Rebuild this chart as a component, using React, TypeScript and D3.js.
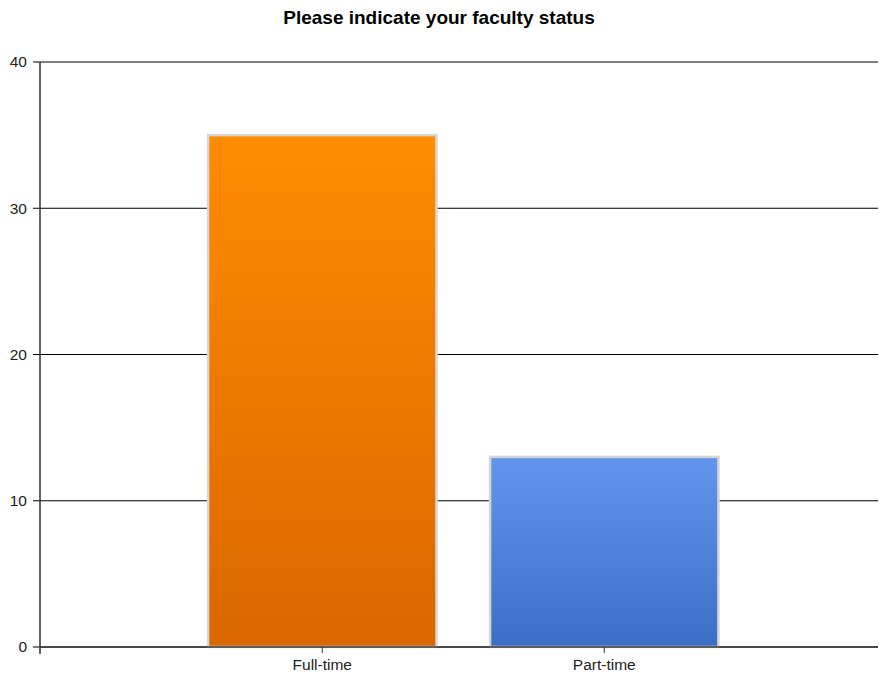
import React from "react";
import * as d3 from "d3";

const categories = ["Full-time", "Part-time"];
const counts = [35, 13];
const yTicks = [0, 10, 20, 30, 40];
const title = "Please indicate your faculty status";
const gradients = [
  { id: "gOrange", top: "#FF8C00", bottom: "#DA6700" },
  { id: "gBlue", top: "#6495ED", bottom: "#3D6EC6" },
];

export default function App() {
  const W = 879, H = 677;
  const left = 40, right = 878, top = 62, bottom = 647;
  const y = d3.scaleLinear().domain([0, 40]).range([bottom, top]);
  const x = d3
    .scaleBand<string>()
    .domain(categories)
    .range([left, right])
    .paddingInner(0.19)
    .paddingOuter(0.581)
    .align(0.513);
  const font = "Arial, 'Liberation Sans', sans-serif";
  return (
    <svg
      width={W}
      height={H}
      style={{ position: "absolute", left: 0, top: 0, background: "#fff" }}
      fontFamily={font}
    >
      <defs>
        {gradients.map((g) => (
          <linearGradient key={g.id} id={g.id} x1="0" y1="0" x2="0" y2="1">
            <stop offset="0" stopColor={g.top} />
            <stop offset="1" stopColor={g.bottom} />
          </linearGradient>
        ))}
      </defs>
      <text x={439} y={24} textAnchor="middle" fontSize={19} fontWeight="bold" fill="#000">
        {title}
      </text>
      {yTicks.map((t) => (
        <g key={t}>
          <line x1={33} x2={right} y1={y(t)} y2={y(t)} stroke="#000" strokeWidth={1} />
          <text x={27} y={y(t)} dy="0.35em" textAnchor="end" fontSize={15.5} fill="#222">
            {t}
          </text>
        </g>
      ))}
      {categories.map((c, i) => {
        const x0 = x(c)!;
        return (
          <rect
            key={c}
            x={x0}
            y={y(counts[i])}
            width={x.bandwidth()}
            height={bottom - y(counts[i])}
            fill={`url(#${gradients[i].id})`}
            stroke="#D6D6D6"
            strokeWidth={2.5}
          />
        );
      })}
      <line x1={left} x2={left} y1={top} y2={bottom + 7} stroke="#333" strokeWidth={1.5} />
      <line x1={left} x2={right} y1={bottom} y2={bottom} stroke="#333" strokeWidth={1.5} />
      {categories.map((c) => {
        const cx = x(c)! + x.bandwidth() / 2;
        return (
          <g key={c}>
            <line x1={cx} x2={cx} y1={bottom} y2={bottom + 6} stroke="#333" />
            <text x={cx} y={665} dy="0.35em" textAnchor="middle" fontSize={15.5} fill="#222">
              {c}
            </text>
          </g>
        );
      })}
    </svg>
  );
}
